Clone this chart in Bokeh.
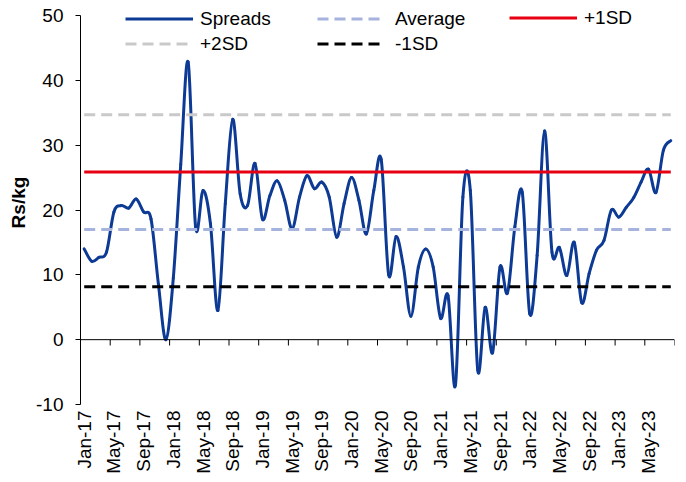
import math
from bokeh.plotting import figure
from bokeh.models import FixedTicker, Legend, LegendItem, Span
from bokeh.embed import file_html
from bokeh.resources import INLINE

# ---- data ----
tick_labels = ["Jan-17", "May-17", "Sep-17", "Jan-18", "May-18", "Sep-18", "Jan-19",
               "May-19", "Sep-19", "Jan-20", "May-20", "Sep-20", "Jan-21", "May-21",
               "Sep-21", "Jan-22", "May-22", "Sep-22", "Jan-23", "May-23"]
y_ticks = [-10, 0, 10, 20, 30, 40, 50]
y_tick_labels = ["-10", "0", "10", "20", "30", "40", "50"]

spreads = [
    14.0, 12.1, 12.7, 13.5, 19.7, 20.7, 20.3, 21.7, 19.7, 18.6,
    8.5, 0.0, 9.5, 27.0, 42.8, 17.4, 23.0, 17.9, 4.5, 21.0,
    34.0, 22.5, 20.7, 27.2, 18.6, 22.2, 24.5, 21.5, 17.1, 22.0,
    25.3, 23.3, 24.3, 22.0, 15.8, 21.0, 25.0, 21.5, 16.3, 23.0,
    27.8, 10.0, 15.9, 11.2, 3.6, 11.2, 14.0, 11.2, 3.3, 6.8,
    -7.0, 22.0, 23.0, -4.7, 5.0, -2.0, 11.2, 7.2, 17.4, 22.7,
    4.0, 13.0, 32.2, 13.5, 14.2, 9.9, 15.0, 5.7, 10.2, 13.8,
    15.3, 20.0, 18.9, 20.4, 21.9, 24.3, 26.3, 22.7, 29.2, 30.7,
]
AVG = 17.0
SD = 8.85

n = len(spreads)
x = list(range(n))
average = [AVG] * n
plus1sd = [AVG + SD] * n
plus2sd = [AVG + 2 * SD] * n
minus1sd = [AVG - SD] * n

# ---- smoothed curve (Catmull-Rom -> cubic Bezier, like Excel smoothing) ----
bx0, by0, bx1, by1, bcx0, bcy0, bcx1, bcy1 = [], [], [], [], [], [], [], []
for i in range(n - 1):
    im = i - 1 if i > 0 else i
    ip = i + 2 if i + 2 < n else i + 1
    bx0.append(x[i]); by0.append(spreads[i])
    bx1.append(x[i + 1]); by1.append(spreads[i + 1])
    bcx0.append(x[i] + (x[i + 1] - x[im]) / 6.0)
    bcy0.append(spreads[i] + (spreads[i + 1] - spreads[im]) / 6.0)
    bcx1.append(x[i + 1] - (x[ip] - x[i]) / 6.0)
    bcy1.append(spreads[i + 1] - (spreads[ip] - spreads[i]) / 6.0)

FONT = "Liberation Sans"
FS = "19px"

# frame reaches the top of the figure so the legend (drawn inside the frame) is not clipped;
# the y axis itself is bounded to -10..50
Y_TOP = 50 + 15 * 60 / 389.0

p = figure(width=686, height=482, x_range=(-0.5, n - 0.5), y_range=(-10, Y_TOP),
           output_backend="svg", toolbar_location=None,
           min_border_left=80, min_border_right=12, min_border_top=0, min_border_bottom=78)
p.xgrid.visible = False
p.ygrid.visible = False
p.outline_line_color = None
p.background_fill_color = "white"
p.border_fill_color = "white"

# x axis: labels only at the bottom
p.xaxis.ticker = FixedTicker(ticks=list(range(0, n, 4)))
p.xaxis.major_label_overrides = {k: lab for k, lab in zip(range(0, n, 4), tick_labels)}
p.xaxis.major_label_orientation = math.pi / 2
p.xaxis.axis_line_color = None
p.xaxis.major_tick_line_color = None
p.xaxis.minor_tick_line_color = None
p.xaxis.major_tick_out = 0
p.xaxis.major_tick_in = 0
p.xaxis.major_label_standoff = 6
p.xaxis.major_label_text_font = FONT
p.xaxis.major_label_text_font_size = FS
p.xaxis.major_label_text_color = "black"

# y axis
p.yaxis.bounds = (-10, 50)
p.yaxis.ticker = FixedTicker(ticks=y_ticks)
p.yaxis.major_label_overrides = dict(zip(y_ticks, y_tick_labels))
p.yaxis.axis_line_color = "black"
p.yaxis.axis_line_width = 1
p.yaxis.major_tick_line_color = "black"
p.yaxis.major_tick_out = 5
p.yaxis.major_tick_in = 0
p.yaxis.minor_tick_line_color = None
p.yaxis.major_label_standoff = 12
p.yaxis.major_label_text_font = FONT
p.yaxis.major_label_text_font_size = FS
p.yaxis.major_label_text_color = "black"
p.yaxis.axis_label = "Rs/kg"
p.yaxis.axis_label_text_font = FONT
p.yaxis.axis_label_text_font_size = FS
p.yaxis.axis_label_text_font_style = "bold"
p.yaxis.axis_label_text_color = "black"
p.yaxis.axis_label_standoff = 4

# zero line with category-boundary ticks
p.add_layout(Span(location=0, dimension="width", line_color="black", line_width=1))
bounds = [k - 0.5 for k in range(0, n + 1, 4)]
p.segment(x0=bounds, y0=[0] * len(bounds), x1=bounds, y1=[-0.9] * len(bounds),
          line_color="black", line_width=1)

BLUE = "#0D3A94"
r_spread = p.bezier(x0=bx0, y0=by0, x1=bx1, y1=by1, cx0=bcx0, cy0=bcy0, cx1=bcx1, cy1=bcy1,
                    line_color=BLUE, line_width=3, line_cap="round")
# single-point line (draws nothing) used only as the legend swatch for the smoothed series
r_leg_spread = p.line(x=x[:1], y=spreads[:1], line_color=BLUE, line_width=3)
r_avg = p.line(x=x, y=average, line_color="#A6B4DD", line_width=3, line_dash="11 6")
r_p1 = p.line(x=x, y=plus1sd, line_color="#E60012", line_width=3)
r_p2 = p.line(x=x, y=plus2sd, line_color="#C9C9C9", line_width=3, line_dash="11 6")
r_m1 = p.line(x=x, y=minus1sd, line_color="black", line_width=3, line_dash="11 6")


def make_legend(items, loc, standoff):
    lg = Legend(items=items, location=loc, orientation="vertical",
                glyph_width=68, glyph_height=19, label_height=19, label_standoff=standoff,
                spacing=3, padding=0, margin=0,
                border_line_color=None, background_fill_alpha=0,
                label_text_font=FONT, label_text_font_size=FS, label_text_color="black")
    p.add_layout(lg)


make_legend([LegendItem(label="Spreads", renderers=[r_leg_spread]),
             LegendItem(label="+2SD", renderers=[r_p2])], (45, 349.5), 7)
make_legend([LegendItem(label="Average", renderers=[r_avg]),
             LegendItem(label="-1SD", renderers=[r_m1])], (237, 349.5), 10)
make_legend([LegendItem(label="+1SD", renderers=[r_p1])], (429, 375.5), 7)

open("out.html", "w").write(file_html(p, INLINE))
